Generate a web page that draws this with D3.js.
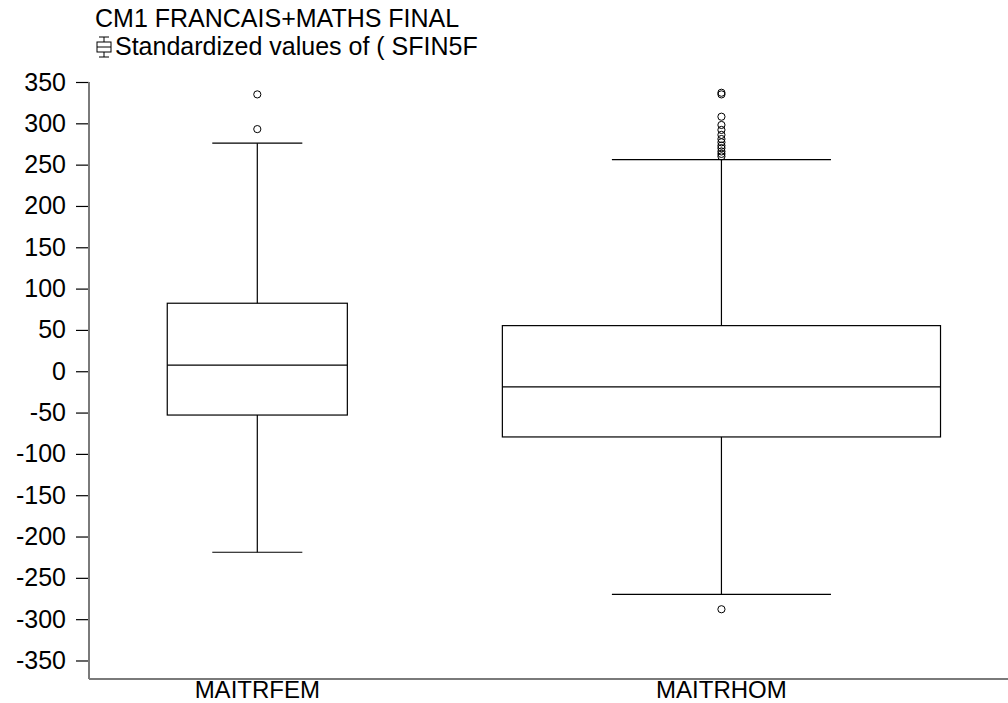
<!DOCTYPE html>
<html lang="en">
    <head>
      <meta charset="utf-8">
      <title>SFIN5F boxplot</title>
            <style>
                body { margin: 0; background: #fff; }
                text {
                        font-family: "Liberation Sans", Arial, sans-serif;
                        font-size: 25px;
                        fill: #000;
                     }
                .box, .whisker, .cap, .med {
                        fill: none;
                        stroke: #000;
                        stroke-width: 1.2px;
                    }
                .out {
                        fill: none;
                        stroke: #000;
                        stroke-width: 1px;
                     }
                .axisline {
                        stroke: #7a7a7a;
                        stroke-width: 2px;
                     }
            </style>
    </head>

    <body>
        <svg width="1008" height="703"></svg>
        <script src="https://d3js.org/d3.v7.min.js"></script>
        <script>

            var groups = ["MAITRFEM", "MAITRHOM"];
            var whiskerLow = [-219, -270];
            var q1 = [-53, -79.5];
            var median = [7.5, -19];
            var q3 = [82.3, 55.2];
            var whiskerHigh = [276, 256];
            var outliers = [
                [335, 293],
                [337, 335, 308, 298, 292, 286, 281, 277, 273, 270, 266, 263, 260, -288]
            ];
            var yTicks = [350, 300, 250, 200, 150, 100, 50, 0, -50, -100, -150, -200, -250, -300, -350];
            var title = "CM1 FRANCAIS+MATHS FINAL";
            var legendText = "Standardized values of ( SFIN5F";

            var svg = d3.select("svg");

            var left = 89, right = 1008, bottom = 679;

            var yScale = d3.scaleLinear()
                           .domain([-372.4, 350])
                           .range([bottom, 82]);

            var xScale = d3.scalePoint()
                           .domain(groups)
                           .range([left, right])
                           .padding(0.49)
                           .align(0.37);

            // box widths as a share of the step between groups
            var boxShare = [0.388, 0.944];
            function bw(i) { return boxShare[i] * xScale.step(); }

            // title + legend -------------------
            svg.append("text")
               .attr("x", 95)
               .attr("y", 27)
               .text(title);

            var ix = 104, iy = 47;
            var icon = svg.append("g").attr("stroke", "#000").attr("stroke-width", 1).attr("fill", "none");
            icon.append("line").attr("x1", ix).attr("x2", ix).attr("y1", iy - 10).attr("y2", iy + 10);
            icon.append("line").attr("x1", ix - 5).attr("x2", ix + 5).attr("y1", iy - 10).attr("y2", iy - 10);
            icon.append("line").attr("x1", ix - 5).attr("x2", ix + 5).attr("y1", iy + 10).attr("y2", iy + 10);
            icon.append("rect").attr("x", ix - 7).attr("y", iy - 5).attr("width", 14).attr("height", 10).attr("fill", "#fff");
            icon.append("line").attr("x1", ix - 7).attr("x2", ix + 7).attr("y1", iy).attr("y2", iy);

            svg.append("text")
               .attr("x", 115)
               .attr("y", 55)
               .text(legendText);

            // axes -----------------------------
            var yAxis = d3.axisLeft(yScale)
                          .tickValues(yTicks)
                          .tickSize(13)
                          .tickPadding(10)
                          .tickFormat(function(d) { return String(d); });

            var gy = svg.append("g")
                        .attr("transform", "translate(" + left + ",0)")
                        .call(yAxis);
            gy.select(".domain").remove();
            gy.selectAll(".tick line").attr("stroke", "#000").attr("stroke-width", 1.2);
            gy.selectAll(".tick text")
              .attr("font-family", "Liberation Sans, Arial, sans-serif")
              .attr("font-size", 25)
              .attr("fill", "#000");

            svg.append("line")
               .attr("class", "axisline")
               .attr("x1", left).attr("x2", left)
               .attr("y1", yScale(350)).attr("y2", bottom);

            svg.append("line")
               .attr("class", "axisline")
               .attr("x1", left).attr("x2", right)
               .attr("y1", bottom).attr("y2", bottom);

            svg.selectAll("text.xlab")
               .data(groups)
               .enter()
               .append("text")
               .attr("class", "xlab")
               .attr("x", function(d) { return xScale(d); })
               .attr("y", 698)
               .attr("text-anchor", "middle")
               .style("font-size", "24px")
               .text(function(d) { return d; });

            // boxes ----------------------------
            var g = svg.selectAll("g.grp")
                       .data(groups)
                       .enter()
                       .append("g")
                       .attr("class", "grp");

            g.append("line")
             .attr("class", "whisker")
             .attr("x1", function(d) { return xScale(d); })
             .attr("x2", function(d) { return xScale(d); })
             .attr("y1", function(d, i) { return yScale(whiskerHigh[i]); })
             .attr("y2", function(d, i) { return yScale(q3[i]); });

            g.append("line")
             .attr("class", "whisker")
             .attr("x1", function(d) { return xScale(d); })
             .attr("x2", function(d) { return xScale(d); })
             .attr("y1", function(d, i) { return yScale(q1[i]); })
             .attr("y2", function(d, i) { return yScale(whiskerLow[i]); });

            [whiskerHigh, whiskerLow].forEach(function(arr) {
                g.append("line")
                 .attr("class", "cap")
                 .attr("x1", function(d, i) { return xScale(d) - bw(i) / 4; })
                 .attr("x2", function(d, i) { return xScale(d) + bw(i) / 4; })
                 .attr("y1", function(d, i) { return yScale(arr[i]); })
                 .attr("y2", function(d, i) { return yScale(arr[i]); });
            });

            g.append("rect")
             .attr("class", "box")
             .attr("x", function(d, i) { return xScale(d) - bw(i) / 2; })
             .attr("width", function(d, i) { return bw(i); })
             .attr("y", function(d, i) { return yScale(q3[i]); })
             .attr("height", function(d, i) { return yScale(q1[i]) - yScale(q3[i]); });

            g.append("line")
             .attr("class", "med")
             .attr("x1", function(d, i) { return xScale(d) - bw(i) / 2; })
             .attr("x2", function(d, i) { return xScale(d) + bw(i) / 2; })
             .attr("y1", function(d, i) { return yScale(median[i]); })
             .attr("y2", function(d, i) { return yScale(median[i]); });

            g.each(function(d, i) {
                d3.select(this).selectAll("circle.out")
                  .data(outliers[i])
                  .enter()
                  .append("circle")
                  .attr("class", "out")
                  .attr("cx", xScale(d))
                  .attr("cy", function(v) { return yScale(v); })
                  .attr("r", 3.6);
            });

        </script>
    </body>
</html>
